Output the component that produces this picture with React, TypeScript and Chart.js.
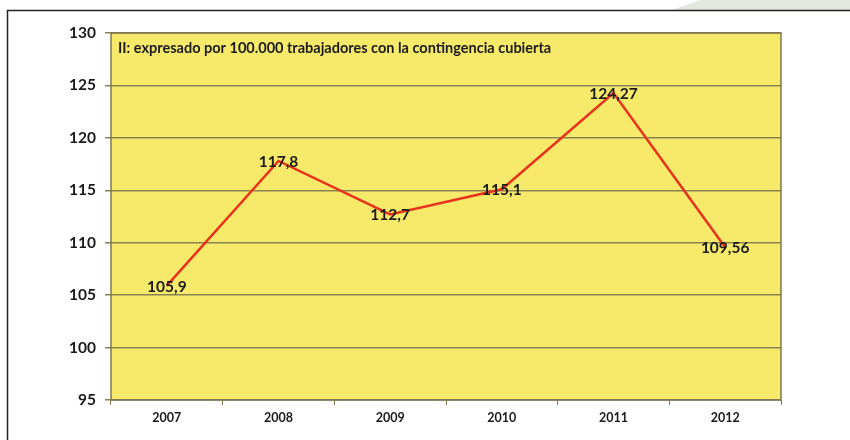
import React, { useEffect, useRef } from "react";
import { Chart, registerables } from "chart.js";

Chart.register(...registerables);

const years = ["2007", "2008", "2009", "2010", "2011", "2012"];
const values = [105.9, 117.8, 112.7, 115.1, 124.27, 109.56];
const pointLabels = ["105,9", "117,8", "112,7", "115,1", "124,27", "109,56"];
const yMin = 95;
const yMax = 130;
const yStep = 5;
const subtitle = "II: expresado por 100.000 trabajadores con la contingencia cubierta";

const FONT = "Lato, 'Open Sans', 'Liberation Sans', sans-serif";

const decorPlugin = {
  id: "decor",
  beforeDraw(chart: any) {
    const { ctx, chartArea } = chart;
    ctx.save();
    ctx.fillStyle = "#ffffff";
    ctx.fillRect(0, 0, chart.width, chart.height);
    // green corner shape
    ctx.fillStyle = "#e3e9e1";
    ctx.beginPath();
    ctx.moveTo(672, 10);
    ctx.lineTo(700, 0);
    ctx.lineTo(850, 0);
    ctx.lineTo(850, 10);
    ctx.closePath();
    ctx.fill();
    // frame
    ctx.strokeStyle = "#222222";
    ctx.lineWidth = 1.5;
    ctx.beginPath();
    ctx.moveTo(850, 10.5);
    ctx.lineTo(7.5, 10.5);
    ctx.lineTo(7.5, 440);
    ctx.stroke();
    // plot area fill
    ctx.fillStyle = "#f7ea6b";
    ctx.fillRect(chartArea.left, chartArea.top, chartArea.right - chartArea.left, chartArea.bottom - chartArea.top);
    ctx.restore();
  },
  afterDatasetsDraw(chart: any) {
    const { ctx, chartArea } = chart;
    ctx.save();
    // plot border
    ctx.strokeStyle = "#7d7650";
    ctx.lineWidth = 1.5;
    ctx.strokeRect(chartArea.left, chartArea.top, chartArea.right - chartArea.left, chartArea.bottom - chartArea.top);
    // subtitle
    ctx.fillStyle = "#1a1a1a";
    ctx.font = "bold 14.5px " + FONT;
    ctx.textAlign = "left";
    ctx.textBaseline = "middle";
    ctx.fillText(subtitle, chartArea.left + 7, chartArea.top + 15);
    // point labels
    const meta = chart.getDatasetMeta(0);
    ctx.font = "bold 15.5px " + FONT;
    ctx.textAlign = "center";
    meta.data.forEach((pt: any, i: number) => {
      ctx.fillText(pointLabels[i], pt.x, pt.y + 1);
    });
    ctx.restore();
  },
};

export default function App() {
  const ref = useRef<HTMLCanvasElement>(null);
  useEffect(() => {
    document.body.style.margin = "0";
    const chart = new Chart(ref.current!, {
      type: "line",
      data: {
        labels: years,
        datasets: [
          {
            data: values,
            borderColor: "#e8321c",
            borderWidth: 2.5,
            pointRadius: 0,
            tension: 0,
            fill: false,
          },
        ],
      },
      options: {
        animation: false,
        responsive: false,
        devicePixelRatio: 1,
        layout: { padding: { top: 33, right: 69, bottom: 0, left: 0 } },
        plugins: { legend: { display: false }, tooltip: { enabled: false } },
        scales: {
          x: {
            offset: true,
            grid: {
              offset: true,
              drawOnChartArea: false,
              drawTicks: true,
              tickLength: 5,
              color: "#7d7650",
            },
            border: { display: false },
            ticks: {
              color: "#1a1a1a",
              font: { family: FONT, weight: "bold", size: 12.5 },
              padding: 5,
              maxRotation: 0,
            },
            afterFit(scale: any) {
              scale.height = 40;
            },
          },
          y: {
            min: yMin,
            max: yMax,
            ticks: {
              stepSize: yStep,
              color: "#1a1a1a",
              font: { family: FONT, weight: "bold", size: 15.5 },
              padding: 9,
            },
            grid: {
              color: "#8a8253",
              lineWidth: 1.5,
              tickLength: 6,
            },
            border: { display: false },
            afterFit(scale: any) {
              scale.width = 111;
            },
          },
        },
      },
      plugins: [decorPlugin],
    });
    return () => chart.destroy();
  }, []);
  return (
    <div style={{ width: 850, height: 440 }}>
      <canvas ref={ref} width={850} height={440} style={{ display: "block" }} />
    </div>
  );
}
